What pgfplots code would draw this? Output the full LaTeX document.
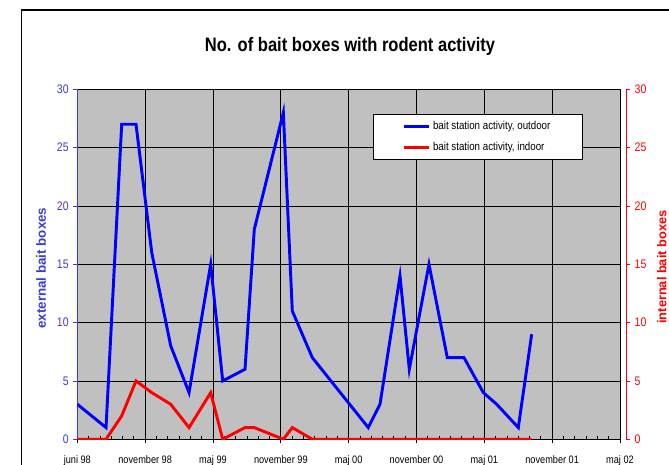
\documentclass[border=0pt]{standalone}
\usepackage{fontspec}
\setmainfont{Liberation Sans}
\newfontfamily\condfont[FakeStretch=0.85]{Liberation Sans}
\usepackage{pgfplots}
\pgfplotsset{compat=1.18}
\usepackage{pgfplotstable}
\definecolor{plotgray}{RGB}{192,192,192}
\definecolor{axblue}{RGB}{60,60,210}

\pgfplotstableread{
x out in
0.000 3 0
0.423 1 0
0.654 27 2
0.865 27 5
1.097 16 4
1.377 8 3
1.647 4 1
1.966 15 4
2.143 5 0
2.472 6 1
2.609 18 1
3.037 28 0
3.169 11 1
3.464 7 0
4.289 1 0
4.462 3 0
4.757 14 0
4.894 6 0
5.184 15 0
5.454 7 0
5.700 7 0
5.985 4 0
6.182 3 0
6.501 1 0
6.698 9 0
}\data

\begin{document}
\begin{tikzpicture}
\useasboundingbox (0,0) rectangle (501.75pt,348.75pt);
\draw[line width=0.8pt] (16pt,-2pt) -- (16pt,341.25pt) -- (520pt,341.25pt);
\node[anchor=base, inner sep=0pt, font=\condfont\bfseries\fontsize{14.6}{16}\selectfont] at (262.5pt,310pt) {No. of bait boxes with rodent activity};

\begin{axis}[
  at={(58pt,19.3pt)}, anchor=south west,
  scale only axis, width=407pt, height=262.5pt,
  xmin=0, xmax=8, ymin=0, ymax=30,
  axis background/.style={fill=plotgray},
  axis x line*=bottom, axis y line*=left,
  x axis line style={black, line width=0.6pt, -},
  y axis line style={axblue, line width=0.6pt, -},
  xtick={0,...,8},
  xticklabels={juni 98, november 98, maj 99, november 99, maj 00, november 00, maj 01, november 01, maj 02},
  minor x tick num=5,
  ytick={0,5,...,30},
  grid=major,
  major grid style={black, line width=0.5pt},
  tick align=outside,
  major tick length=3pt,
  minor tick length=2.25pt,
  xtick style={black, line width=0.6pt},
  minor x tick style={yshift=2.25pt},
  ytick style={axblue, line width=0.6pt},
  /pgf/number format/assume math mode=true,
  xticklabel style={font=\condfont\fontsize{8.1}{9}\selectfont, yshift=-6pt},
  yticklabel style={font=\condfont\fontsize{9.3}{10}\selectfont, text=axblue},
  ylabel={external bait boxes},
  ylabel style={at={(axis description cs:-0.0669,0.489)}, anchor=center, font=\bfseries\fontsize{10}{12}\selectfont, text=axblue},
]
\addplot[blue, line width=2.2pt] table[x=x, y=out] {\data};
\end{axis}

\begin{axis}[
  at={(58pt,19.3pt)}, anchor=south west,
  scale only axis, width=407pt, height=262.5pt,
  xmin=0, xmax=8, ymin=0, ymax=30,
  axis x line=none, axis y line*=right,
  axis y line shift=4.5pt,
  y axis line style={red, line width=0.6pt, -},
  ytick={0,5,...,30},
  tick align=outside,
  major tick length=3pt,
  ytick style={red, line width=0.6pt},
  /pgf/number format/assume math mode=true,
  yticklabel style={font=\condfont\fontsize{9.3}{10}\selectfont, text=red},
  ylabel={internal bait boxes},
  ylabel style={at={(axis description cs:1.0772,0.492)}, anchor=center, inner sep=0pt, font=\bfseries\fontsize{9.6}{11}\selectfont, text=red},
  legend style={at={(0.5443,0.9286)}, anchor=north west, draw=black, line width=0.6pt, fill=white,
    inner xsep=22pt, inner ysep=3pt, row sep=4pt,
    font=\condfont\fontsize{8.6}{9}\selectfont},
  legend cell align=left,
  legend image code/.code={\draw[#1] (0pt,0pt) -- (18.75pt,0pt);},
]
\addlegendimage{blue, line width=2.2pt}
\addlegendentry{bait station activity, outdoor}
\addplot[red, line width=2.2pt] table[x=x, y=in] {\data};
\addlegendentry{bait station activity, indoor}
\end{axis}
\end{tikzpicture}
\end{document}
